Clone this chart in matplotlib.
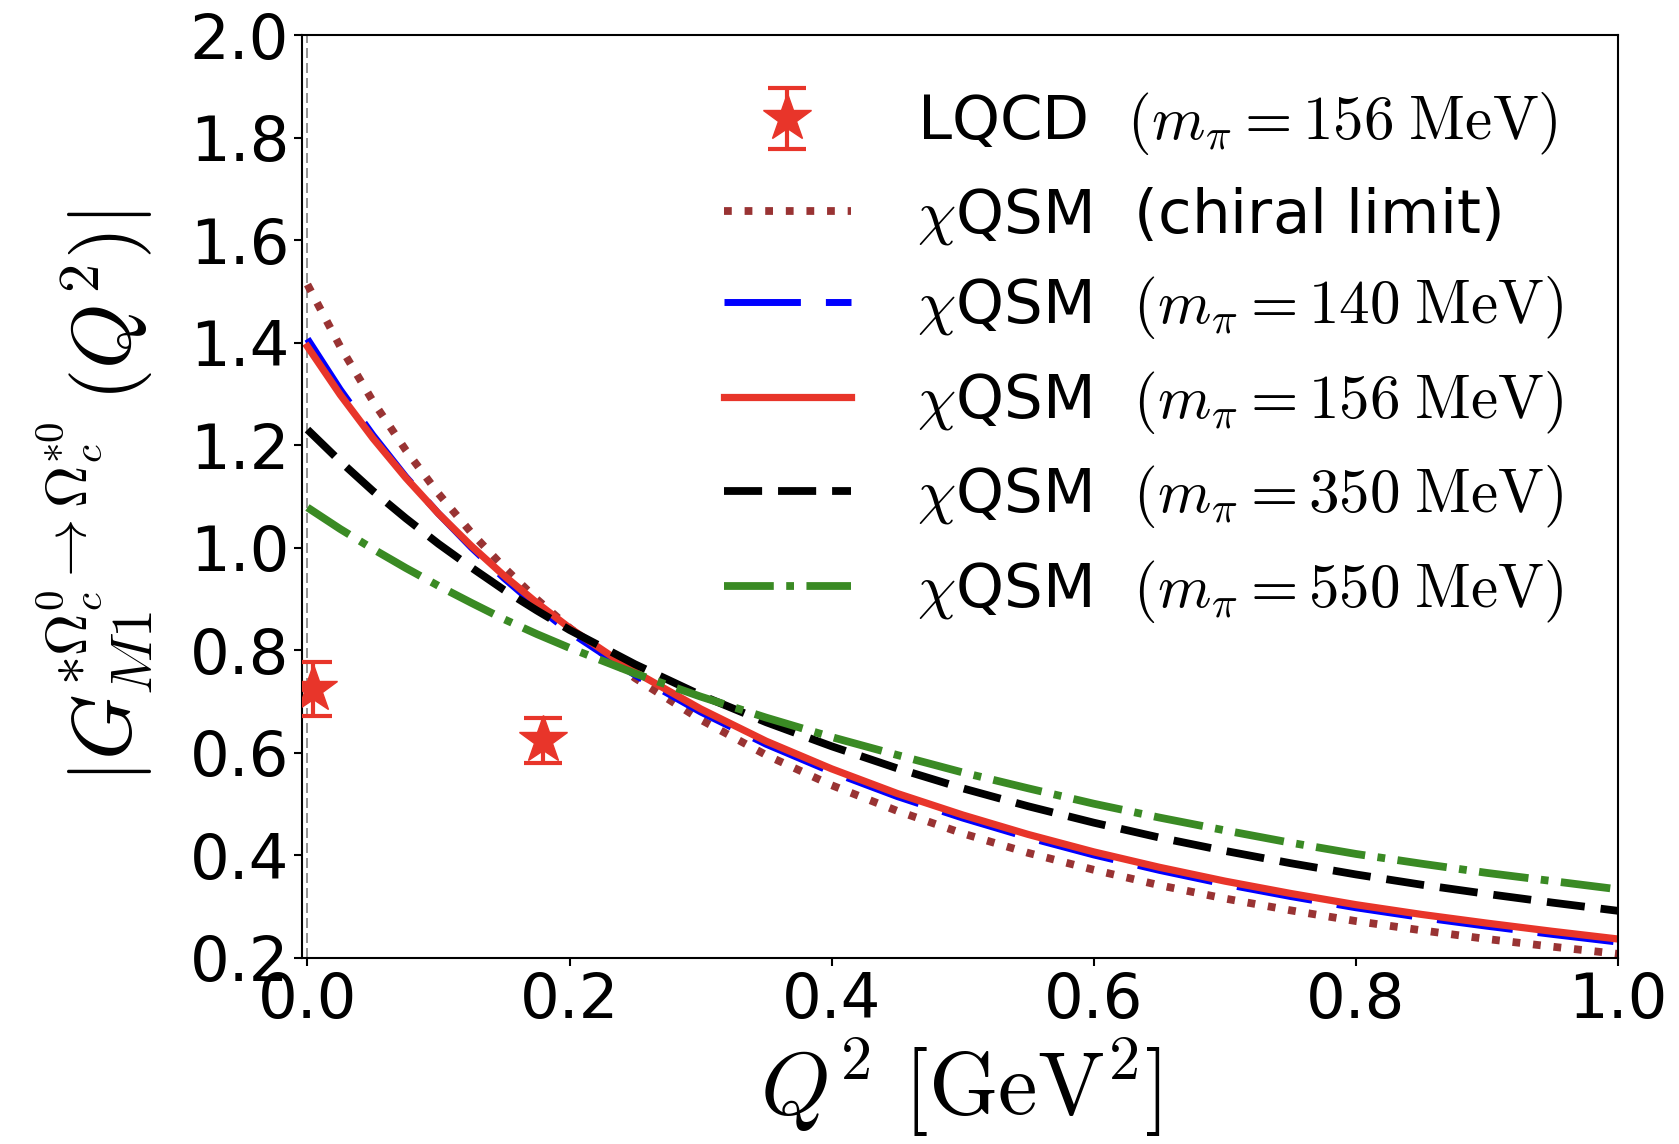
import numpy as np
import matplotlib.pyplot as plt

plt.rcParams['mathtext.fontset'] = 'cm'
plt.rcParams['font.family'] = 'DejaVu Sans'

# Q^2 grid [GeV^2]
q2 = [0.0, 0.025, 0.05, 0.075, 0.1, 0.125, 0.15, 0.175, 0.2, 0.25, 0.3, 0.35, 0.4, 0.45, 0.5,
      0.55, 0.6, 0.65, 0.7, 0.75, 0.8, 0.85, 0.9, 0.95, 1.0]

# chiQSM curves
g_chiral = [1.514, 1.393, 1.286, 1.191, 1.106, 1.030, 0.962, 0.900, 0.844, 0.746, 0.665, 0.596,
            0.537, 0.487, 0.443, 0.405, 0.372, 0.342, 0.316, 0.293, 0.272, 0.254, 0.237, 0.222, 0.208]
g_140 = [1.408, 1.309, 1.220, 1.139, 1.067, 1.001, 0.941, 0.886, 0.836, 0.752, 0.680, 0.617,
         0.563, 0.515, 0.473, 0.435, 0.401, 0.371, 0.344, 0.320, 0.298, 0.279, 0.262, 0.246, 0.231]
g_156 = [1.393, 1.299, 1.214, 1.137, 1.067, 1.004, 0.946, 0.893, 0.844, 0.758, 0.686, 0.623,
         0.569, 0.521, 0.479, 0.441, 0.407, 0.377, 0.350, 0.326, 0.304, 0.285, 0.268, 0.252, 0.237]
g_350 = [1.231, 1.169, 1.111, 1.058, 1.008, 0.962, 0.918, 0.878, 0.840, 0.773, 0.713, 0.660,
         0.613, 0.570, 0.531, 0.496, 0.464, 0.435, 0.409, 0.385, 0.363, 0.343, 0.325, 0.308, 0.292]
g_550 = [1.079, 1.037, 0.998, 0.961, 0.926, 0.893, 0.861, 0.832, 0.805, 0.755, 0.710, 0.669,
         0.631, 0.596, 0.562, 0.531, 0.501, 0.474, 0.449, 0.425, 0.403, 0.384, 0.366, 0.350, 0.334]

# lattice points
lq_x = [0.004, 0.180]
lq_y = [0.725, 0.625]
lq_err = [0.052, 0.044]

red = '#e8352a'

fig = plt.figure(figsize=(16.79, 11.44), dpi=100)
ax = fig.add_axes([0.180, 0.1626, 0.7837, 0.8064])

ax.axvline(0.0, color='gray', lw=1.2, ls='--', dashes=(6, 3))

h_lq = ax.errorbar(lq_x, lq_y, yerr=lq_err, fmt='*', color=red, ms=36, capsize=14,
                   elinewidth=3, capthick=3, zorder=5)
h1, = ax.plot(q2, g_chiral, ':', color='#993333', lw=5.6)
h2, = ax.plot(q2, g_140, color='blue', lw=5.0, dashes=(11, 3.6))
h3, = ax.plot(q2, g_156, '-', color=red, lw=5.2)
h4, = ax.plot(q2, g_350, color='black', lw=5.6, dashes=(4.9, 2.05))
h5, = ax.plot(q2, g_550, '-.', color='#3a8a24', lw=5.6)

labels = [r'LQCD  $(m_{\pi}=156\;\mathrm{MeV})$',
          r'$\chi$QSM  (chiral limit)',
          r'$\chi$QSM  $(m_{\pi}=140\;\mathrm{MeV})$',
          r'$\chi$QSM  $(m_{\pi}=156\;\mathrm{MeV})$',
          r'$\chi$QSM  $(m_{\pi}=350\;\mathrm{MeV})$',
          r'$\chi$QSM  $(m_{\pi}=550\;\mathrm{MeV})$']

ax.set_xlim(-0.004, 1.0)
ax.set_ylim(0.2, 2.0)
ax.set_xticks([0.0, 0.2, 0.4, 0.6, 0.8, 1.0])
ax.set_yticks([0.2, 0.4, 0.6, 0.8, 1.0, 1.2, 1.4, 1.6, 1.8, 2.0])
ax.tick_params(labelsize=45, width=1.5, length=6)
for s in ax.spines.values():
    s.set_linewidth(1.5)

ax.set_xlabel(r'$Q^2\ [\mathrm{GeV}^2]$', fontsize=64)
ax.set_ylabel(r'$|G_{M1}^{*\Omega_c^0\rightarrow\Omega_c^{*0}}\,(Q^2)|$', fontsize=60,
              labelpad=24)

ax.legend([h_lq, h1, h2, h3, h4, h5], labels, loc='upper right', fontsize=44,
          frameon=False, handlelength=2.07, handletextpad=1.08, labelspacing=0.45,
          borderaxespad=0.5)

fig.savefig('out.png', dpi=100)
